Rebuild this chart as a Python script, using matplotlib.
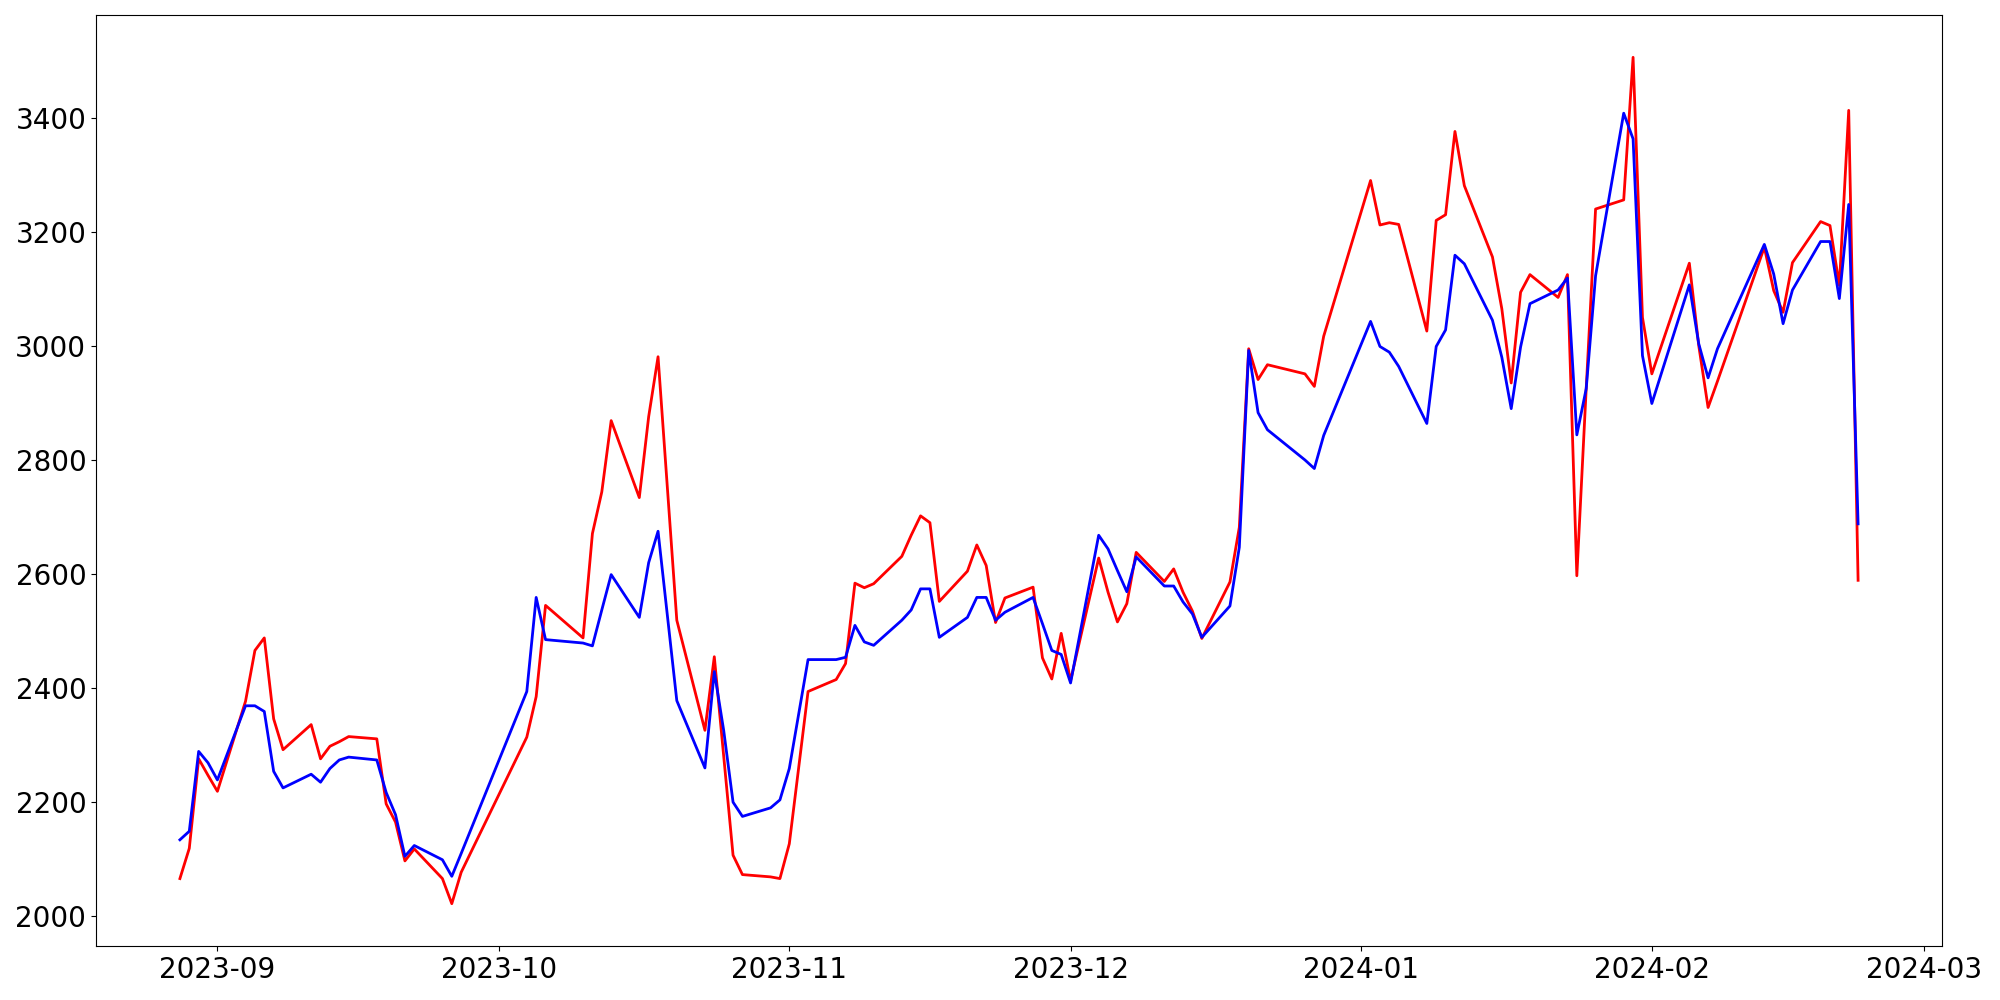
import numpy as np
import matplotlib
matplotlib.use('Agg')
import matplotlib.pyplot as plt
import pandas as pd

# trading days shown in the chart
dates = (
    ['2023-08-28', '2023-08-29', '2023-08-30', '2023-08-31'] +
    ['2023-09-%02d' % d for d in [1, 4, 5, 6, 7, 8, 11, 12, 13, 14, 15, 18, 19, 20, 21, 22, 25, 26, 27]] +
    ['2023-10-%02d' % d for d in [4, 5, 6, 10, 11, 12, 13, 16, 17, 18, 20, 23, 24, 25, 26, 27, 30, 31]] +
    ['2023-11-%02d' % d for d in [1, 3, 6, 7, 8, 9, 10, 13, 14, 15, 16, 17, 20, 21, 22, 23, 24, 27, 28, 29, 30]] +
    ['2023-12-%02d' % d for d in [1, 4, 5, 6, 7, 8, 11, 12, 13, 14, 15, 18, 19, 20, 21, 22, 26, 27, 28]] +
    ['2024-01-%02d' % d for d in [2, 3, 4, 5, 8, 9, 10, 11, 12, 15, 16, 17, 18, 19, 22, 23, 24, 25, 26, 29, 30, 31]] +
    ['2024-02-%02d' % d for d in [1, 5, 6, 7, 8, 13, 14, 15, 16, 19, 20, 21, 22, 23]]
)

red_vals = (
    [2066, 2119, 2276, 2247] +
    [2219, 2377, 2466, 2488, 2346, 2292, 2336, 2276, 2298, 2306, 2315, 2311, 2197, 2165, 2097, 2118, 2066, 2022, 2077] +
    [2314, 2385, 2545, 2488, 2671, 2744, 2869, 2734, 2876, 2981, 2519, 2326, 2455, 2281, 2107, 2073, 2069, 2066] +
    [2127, 2394, 2415, 2443, 2584, 2576, 2583, 2631, 2668, 2702, 2690, 2552, 2605, 2651, 2615, 2515, 2558, 2577, 2453, 2416, 2496] +
    [2413, 2628, 2568, 2516, 2548, 2638, 2587, 2609, 2568, 2535, 2487, 2586, 2682, 2995, 2941, 2967, 2951, 2929, 3017] +
    [3290, 3212, 3216, 3213, 3026, 3220, 3230, 3376, 3281, 3156, 3065, 2935, 3094, 3125, 3085, 3125, 2597, 2925, 3240, 3256, 3506, 3050] +
    [2951, 3145, 3001, 2892, 2938, 3173, 3097, 3059, 3146, 3218, 3211, 3106, 3413, 2589]
)

blue_vals = (
    [2134, 2149, 2289, 2269] +
    [2239, 2369, 2369, 2359, 2254, 2225, 2249, 2235, 2259, 2274, 2279, 2274, 2217, 2178, 2105, 2124, 2099, 2070, 2110] +
    [2394, 2559, 2485, 2479, 2474, 2537, 2599, 2524, 2620, 2675, 2378, 2260, 2429, 2326, 2200, 2175, 2190, 2204] +
    [2259, 2450, 2450, 2454, 2510, 2481, 2475, 2519, 2537, 2574, 2574, 2489, 2524, 2559, 2559, 2519, 2533, 2559, 2513, 2466, 2459] +
    [2409, 2668, 2644, 2606, 2569, 2630, 2579, 2579, 2551, 2530, 2489, 2544, 2647, 2992, 2883, 2853, 2800, 2785, 2843] +
    [3043, 2999, 2989, 2964, 2864, 2999, 3028, 3159, 3144, 3045, 2980, 2890, 2998, 3074, 3098, 3119, 2844, 2925, 3123, 3408, 3363, 2983] +
    [2899, 3107, 3004, 2944, 2995, 3178, 3126, 3039, 3098, 3183, 3183, 3083, 3248, 2688]
)

x = pd.to_datetime(dates)

fig, ax = plt.subplots(figsize=(20, 10), dpi=100)
ax.plot(x, red_vals, color='red', lw=2)
ax.plot(x, blue_vals, color='blue', lw=2)
ax.tick_params(labelsize=20)
plt.subplots_adjust(left=0.048, right=0.971, top=0.985, bottom=0.054)
plt.savefig('out.png')
